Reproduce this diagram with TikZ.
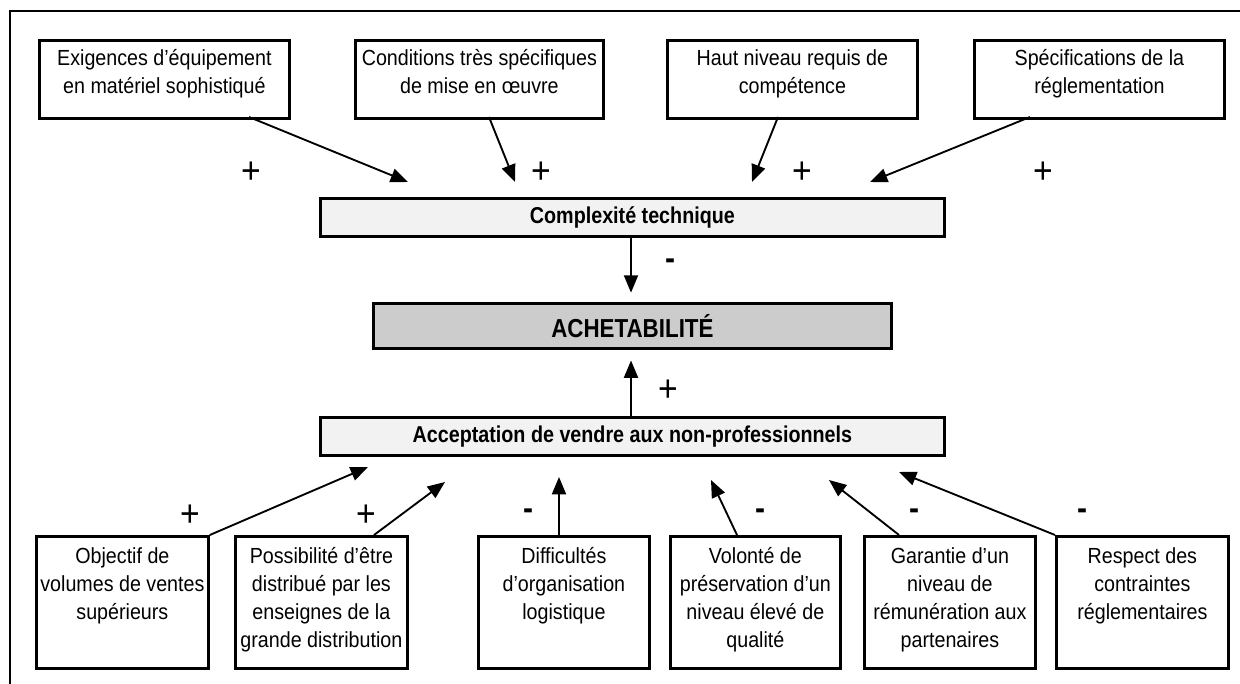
\documentclass[tikz,border=0pt]{standalone}
\usepackage{fontspec}
\setmainfont{Liberation Sans}[FakeStretch=0.9]
\newfontfamily\labfont{Liberation Sans}[FakeStretch=0.86]
\usetikzlibrary{arrows.meta}
\begin{document}
\begin{tikzpicture}[x=0.75pt,y=-0.75pt,
  box/.style 2 args={draw,line width=2.1pt,inner sep=0pt,anchor=north west,
    minimum width=#1*0.75pt,minimum height=#2*0.75pt},
  txt/.style={anchor=north,inner sep=0pt,align=center,
    font=\fontsize{16.4}{21}\selectfont},
  boldlab/.style={font=\labfont\fontsize{17.2}{19}\selectfont\bfseries},
  sign/.style={inner sep=0pt,font=\fontsize{28}{30}\selectfont},
  msign/.style={inner sep=0pt,font=\fontsize{25}{27}\selectfont\bfseries},
  arr/.style={line width=1.4pt,-{Triangle[length=13pt,width=10.5pt]}}]
\useasboundingbox (0,0) rectangle (1240,684);
% outer frame (open to the right and bottom)
\draw[line width=1.4pt] (10,684) -- (10,11) -- (1240,11);

% top boxes
\node[box={250}{78}] (t1) at (38,39) {};
\node[box={248}{78}] (t2) at (354,39) {};
\node[box={250}{78}] (t3) at (666,39) {};
\node[box={250}{78}] (t4) at (973,39) {};
\node[txt] (t1l) at ([yshift=-7.5pt]t1.north) {Exigences d’équipement\\en matériel sophistiqué};
\node[txt] (t2l) at ([yshift=-7.5pt]t2.north) {Conditions très spécifiques\\de mise en œuvre};
\node[txt] (t3l) at ([yshift=-7.5pt]t3.north) {Haut niveau requis de\\compétence};
\node[txt] (t4l) at ([yshift=-7.5pt]t4.north) {Spécifications de la\\réglementation};

% central boxes
\node[box={624}{38},fill=black!5,boldlab] (cx) at (319,197) {Complexité technique};
\node[box={518}{45},fill=black!20,font=\labfont\fontsize{19.5}{22}\selectfont\bfseries] (ach) at (372,302) {ACHETABILITÉ};
\node[box={624}{38},fill=black!5,boldlab] (acc) at (319,416) {Acceptation de vendre aux non-professionnels};

% bottom boxes
\node[box={172}{132}] (b1) at (35,535) {};
\node[box={172}{132}] (b2) at (234,535) {};
\node[box={171}{132}] (b3) at (477,535) {};
\node[box={170}{132}] (b4) at (669,535) {};
\node[box={171}{132}] (b5) at (863,535) {};
\node[box={172}{132}] (b6) at (1055,535) {};
\node[txt] (b1l) at ([yshift=-9pt]b1.north) {Objectif de\\volumes de ventes\\supérieurs};
\node[txt] (b2l) at ([yshift=-9pt]b2.north) {Possibilité d’être\\distribué par les\\enseignes de la\\grande distribution};
\node[txt] (b3l) at ([yshift=-9pt]b3.north) {Difficultés\\d’organisation\\logistique};
\node[txt] (b4l) at ([yshift=-9pt]b4.north) {Volonté de\\préservation d’un\\niveau élevé de\\qualité};
\node[txt] (b5l) at ([yshift=-9pt]b5.north) {Garantie d’un\\niveau de\\rémunération aux\\partenaires};
\node[txt] (b6l) at ([yshift=-9pt]b6.north) {Respect des\\contraintes\\réglementaires};

% arrow start and end points
\coordinate (s1) at (249,117);  \coordinate (e1) at (408,182);
\coordinate (s2) at (489,117);  \coordinate (e2) at (515,182);
\coordinate (s3) at (778,117);  \coordinate (e3) at (752,182);
\coordinate (s4) at (1030,117); \coordinate (e4) at (870,182);
\coordinate (f1) at (368,467);
\coordinate (f2) at (445,482);
\coordinate (f3) at (559,477);
\coordinate (f4) at (711,480);
\coordinate (f5) at (829,480);
\coordinate (f6) at (899,472);

\draw[arr] (s1) -- (e1);
\draw[arr] (s2) -- (e2);
\draw[arr] (s3) -- (e3);
\draw[arr] (s4) -- (e4);

\draw[arr] (cx.south -| 631,0) -- ([yshift=7pt]ach.north -| 631,0);
\draw[arr] (acc.north -| 631,0) -- ([yshift=-8pt]ach.south -| 631,0);

\draw[arr] (b1.north east) -- (f1);
\draw[arr] (b2.north -| 374,0) -- (f2);
\draw[arr] (b3.north -| 559,0) -- (f3);
\draw[arr] (b4.north -| 737,0) -- (f4);
\draw[arr] (b5.north -| 899,0) -- (f5);
\draw[arr] (b6.north west) -- (f6);

% signs
\node[sign] (p1) at (251,173) {+};
\node[sign] (p2) at (541,173) {+};
\node[sign] (p3) at (802,173) {+};
\node[sign] (p4) at (1043,173) {+};
\node[msign] (m0) at (670,264) {-};
\node[sign] (p0) at (668,391) {+};
\node[sign] (p5) at (190,516) {+};
\node[sign] (p6) at (366,516) {+};
\node[msign] (m1) at (528,514) {-};
\node[msign] (m2) at (760,514) {-};
\node[msign] (m3) at (914,514) {-};
\node[msign] (m4) at (1082,514) {-};
\end{tikzpicture}
\end{document}
